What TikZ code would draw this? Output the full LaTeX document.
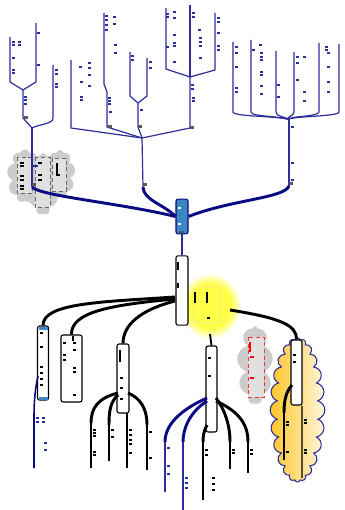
\documentclass[tikz,border=0pt]{standalone}
\usetikzlibrary{shapes.symbols}
\definecolor{nv}{RGB}{45,45,155}
\definecolor{dnv}{RGB}{10,10,130}
\definecolor{stb}{RGB}{60,135,195}
\definecolor{orl}{RGB}{255,198,40}
\definecolor{orr}{RGB}{255,246,220}
\pgfdeclareradialshading{glow}{\pgfpoint{0bp}{0bp}}{color(0bp)=(yellow!72); color(17bp)=(yellow!72); color(25bp)=(white); color(50bp)=(white)}
\begin{document}
\begin{tikzpicture}[x=0.75pt,y=-0.75pt,
  thin/.style={draw=nv, line width=0.9pt},
  thk/.style={draw=dnv, line width=2.2pt},
  bthin/.style={draw=black, line width=1pt},
  bthk/.style={draw=black, line width=2.2pt},
  tk/.style={draw=nv, line width=0.9pt},
  btk/.style={draw=black, line width=1pt},
  boxw/.style={draw=black, fill=white, rounded corners=1.5pt, line width=0.8pt, inner sep=0pt},
  gblob/.style={cloud, cloud puffs=9, aspect=0.6, fill=black!20, inner sep=0pt},
  endmark/.style={fill=black!65}]
\useasboundingbox (0,0) rectangle (344,510);

% ---------- background blobs ----------
\node[gblob, minimum width=27pt, minimum height=40pt] (g1) at (25,176) {};
\node[gblob, minimum width=25pt, minimum height=46pt] (g2) at (43,184) {};
\node[gblob, minimum width=23pt, minimum height=36pt] (g3) at (60,174) {};
\node[gblob, minimum width=27pt, minimum height=58pt] (g4) at (255,365) {};
\shade[shading=glow] (210,306) ellipse (31 and 33);
\node[cloud, cloud puffs=24, aspect=0.36, draw=nv, line width=0.8pt, left color=orl, right color=orr,
      minimum width=41pt, minimum height=108pt, inner sep=0pt] (orc) at (297.5,410) {};

% dashed boxes
\draw[black!60, densely dashed, line width=0.5pt, fill=black!12] (17,157) rectangle (32,193);
\draw[black!60, densely dashed, line width=0.5pt, fill=black!12] (35,157) rectangle (50,207);
\draw[black!60, densely dashed, line width=0.5pt, fill=black!12] (52,158) rectangle (66,191);
\draw[red!80, densely dashed, line width=0.5pt, fill=black!12] (248,337) rectangle (264,397);
\draw[yellow!60!black!30, densely dotted, line width=0.4pt] (194,286) rectangle (220,322);

% ---------- top tree (navy) ----------
% left subtree
\coordinate (la) at (23,90);
\coordinate (lb) at (23,118);
\coordinate (lc) at (32,128);
\coordinate (lg) at (32,187);
\draw[thin] (10,37) -- (10,82) -- (la);
\draw[thin] (36,23) -- (36,82) -- (la);
\draw[thin] (la) -- (lb) -- (lc);
\draw[thin] (53,65) -- (53,118) .. controls (53,124) and (40,124) .. (lc);
\draw[thin] (lc) -- (lg);
\draw[thin] (32,166) -- (38,166);
% middle subtree
\coordinate (ma) at (142,138);
\coordinate (mb) at (138,103);
\coordinate (mc) at (190,77);
\coordinate (mg) at (143,187);
\draw[thin] (71,60) -- (71,128) -- (ma);
\draw[thin] (104,13) -- (104,84) -- (107,92) -- (107,127) -- (ma);
\draw[thin] (130,52) -- (130,96) -- (mb);
\draw[thin] (147,58) -- (147,96) -- (mb);
\draw[thin] (mb) -- (138,127) -- (ma);
\draw[thin] (166,8) -- (166,69) -- (mc);
\draw[thin] (190,5) -- (mc);
\draw[thin] (215,13) -- (215,70) -- (mc);
\draw[thin] (mc) -- (190,128) -- (ma);
\draw[thin] (ma) -- (mg);
% right subtree
\coordinate (ra) at (289,120);
\coordinate (rg) at (289,186);
\foreach \x/\t in {233/42,251/40,276/51,294/52,319/43,339/44}
  \draw[thin] (\x,\t) -- (\x,112) .. controls (\x,117) and (285,116) .. (ra);
\draw[thin] (ra) -- (rg);

% end markers
\foreach \x/\y in {24/116,108/125,138/125,190/126,289/182,32/183,143/183}
  \fill[endmark] (\x,\y) rectangle ++(4,3);

% ticks top
\foreach \x/\y in {12/42,18/42,12/45,18/45,12/58,12/70,12/73,37/33,37/65,55/70,55/74,55/84,55/87,24/97,24/100,24/104,
  79/67,88/63,88/68,88/75,80/82,88/86,80/97,80/100,
  105/16,105/20,105/25,105/30,113/17,113/24,114/45,114/53,108/98,108/101,108/104,109/112,
  131/56,131/60,149/62,149/68,140/110,
  166/14,166/17,166/47,173/12,173/18,173/35,173/43,173/46,173/62,
  192/13,192/17,198/30,199/38,199/42,199/46,199/58,217/18,217/22,217/33,217/46,217/50,191/85,191/89,192/98,192/101,
  235/47,235/53,235/67,235/88,235/92,252/50,259/45,260/53,260/57,260/60,260/72,260/75,260/86,260/94,
  277/85,277/97,296/57,296/63,296/80,303/57,303/92,303/101,325/47,325/50,327/53,327/67,327/82,327/92,
  291/127,291/163,291/180}
  \draw[tk] (\x,\y) -- ++(3,0);
% ticks in grey boxes
\foreach \x/\y in {20/163,20/166,20/176,20/180,20/186,20/189,38/163,38/175,38/180}
  \draw[black, line width=1.2pt] (\x,\y) -- ++(4,0);
\draw[black, line width=1.6pt] (57,163) -- (57,175) -- (60,175);

% ---------- hub (blue) ----------
\node[draw=dnv, fill=stb, rounded corners=1.5pt, line width=0.8pt, inner sep=0pt,
      minimum width=9pt, minimum height=26pt] (hub) at (182,216.5) {};
\fill[white] (178,207) rectangle ++(3,2);
\fill[white] (178,223) rectangle ++(3,2);
\fill[endmark] (179,231) rectangle ++(5,2);

\draw[thk] (hub.west) .. controls (120,203) and (40,196) .. (lg);
\draw[thk] (hub.west) .. controls (165,205) and (143,200) .. (mg);
\draw[thk] (hub.east) .. controls (230,200) and (285,198) .. (rg);

% ---------- central node ----------
\node[boxw, minimum width=9pt, minimum height=52pt] (ctr) at (182,290.5) {};
\draw[thin] (hub.south) -- (ctr.north);
\draw[black, line width=1.8pt] (178,262) -- (178,270);
\draw[black, line width=1.8pt] (178,283) -- (178,288);

% child nodes
\node[boxw, minimum width=8.25pt, minimum height=55.5pt] (n1) at (43,363) {};
\fill[stb] (38.5,327) rectangle (47.5,330);
\fill[stb] (38.5,397) rectangle (47.5,399.5);
\node[boxw, minimum width=15.75pt, minimum height=50.25pt] (n2) at (71.5,368.5) {};
\node[boxw, minimum width=9pt, minimum height=51.75pt] (n3) at (123,378.5) {};
\node[boxw, minimum width=8.25pt, minimum height=64.5pt] (n4) at (211.5,389) {};
\node[boxw, minimum width=8.25pt, minimum height=48.75pt] (n5) at (296.5,372.5) {};

\draw[bthk] (175,297) .. controls (100,302) and (43,303) .. (n1.north);
\draw[bthk] (175,299) .. controls (110,305) and (71,312) .. (n2.north);
\draw[bthk] (175,301) .. controls (140,310) and (123,325) .. (n3.north);
\draw[bthin, line width=1.4pt] (210,334) -- (n4.north);
\draw[bthk] (230,310) .. controls (280,318) and (297,325) .. (n5.north);

% marks in yellow blob & nodes
\draw[black, line width=1.6pt] (195,292) -- (195,303);
\draw[black, line width=1.6pt] (207,292) -- (207,303);
\draw[black, line width=1.2pt] (207,318) -- (210,318);
\foreach \x/\y in {40/333,40/347,40/367,40/373,40/379,40/385,63/343,73/343,73/350,63/355,63/360,73/368,73/372,73/395,
  120/378,120/388,120/399,208/358,208/376,293/355,293/362}
  \draw[btk] (\x,\y) -- ++(3,0);
\draw[black, line width=1.6pt] (120,350) -- (120,362);
\draw[black, line width=1.6pt] (73,336) -- (73,341);
\draw[red, line width=1.4pt] (250,342) -- (250,352);
\draw[red, line width=1.2pt] (250,357) -- (254,357);
\draw[red, line width=1.2pt] (250,378) -- (254,378);

% below n1
\coordinate (n1l) at (34,468);
\draw[draw=dnv, line width=1.2pt] (38,376) .. controls (35,390) and (34,400) .. (34,420) -- (n1l);
\foreach \x/\y in {36/418,36/422,42/418,42/422,44/443,44/450}
  \draw[tk] (\x,\y) -- ++(3,0);

% below n3
\coordinate (n3a) at (91,468);
\coordinate (n3b) at (109,461);
\coordinate (n3c) at (127,468);
\coordinate (n3d) at (147,470);
\draw[bthk] (118,393) .. controls (98,398) and (91,408) .. (91,423);
\draw[bthin] (91,423) -- (n3a);
\draw[bthk] (118,395) .. controls (110,402) and (109,412) .. (109,425);
\draw[bthin] (109,425) -- (n3b);
\draw[bthin] (127,413) -- (n3c);
\draw[bthk] (128,393) .. controls (140,398) and (147,408) .. (147,425);
\draw[bthin] (147,425) -- (n3d);
\foreach \x/\y in {93/430,93/433,93/436,93/452,93/455,111/430,111/437,129/430,129/435,129/440,129/444,129/453,149/432,149/458}
  \draw[btk] (\x,\y) -- ++(3,0);

% below n4
\coordinate (n4a) at (165,492);
\coordinate (n4b) at (183,510);
\coordinate (n4c) at (203,500);
\coordinate (n4d) at (230,469);
\coordinate (n4e) at (248,473);
\draw[thk] (207,398) .. controls (180,410) and (165,425) .. (165,442);
\draw[thin] (165,442) -- (n4a);
\draw[thk] (207,401) .. controls (190,412) and (183,428) .. (183,442);
\draw[thin, line width=1.1pt] (183,442) -- (n4b);
\draw[bthk] (207,425) .. controls (204,430) and (203,436) .. (203,442);
\draw[bthin] (203,442) -- (n4c);
\draw[bthk] (216,398) .. controls (225,410) and (230,425) .. (230,442);
\draw[bthin] (230,442) -- (n4d);
\draw[bthk] (216,401) .. controls (240,412) and (248,425) .. (248,442);
\draw[bthin] (248,442) -- (n4e);
\foreach \x/\y in {205/450,205/455,212/478,212/484,212/490,232/450,232/453,250/450,250/454}
  \draw[btk] (\x,\y) -- ++(3,0);
\foreach \x/\y in {167/448,167/466,167/474,185/478,185/483,185/488}
  \draw[tk] (\x,\y) -- ++(3,0);

% inside orange cloud
\coordinate (n5a) at (284,460);
\coordinate (n5b) at (302,478);
\draw[bthk] (292,385) .. controls (286,392) and (284,400) .. (284,413);
\draw[bthin] (284,413) -- (n5a);
\draw[bthin] (n5.south east) ++(-0.5,0) -- (n5b);
\foreach \x/\y in {286/422,286/425,286/452,304/420,304/423,304/450,304/453}
  \draw[btk] (\x,\y) -- ++(3,0);
\end{tikzpicture}
\end{document}
